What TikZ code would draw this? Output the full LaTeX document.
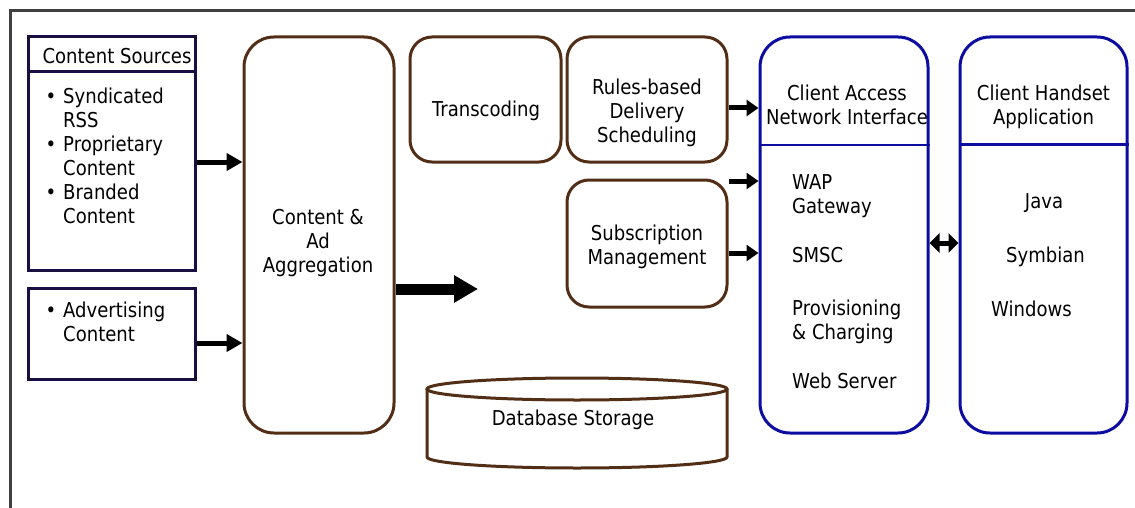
\documentclass[tikz,border=0pt]{standalone}
\usepackage{fontspec}
\setmainfont{DejaVu Sans}[FakeStretch=0.88]
\usetikzlibrary{arrows.meta}
\definecolor{srcnavy}{RGB}{26,14,66}
\definecolor{procbrown}{RGB}{82,46,22}
\definecolor{clientblue}{RGB}{12,12,160}
\definecolor{framegray}{RGB}{64,64,64}
\tikzset{
  boxsize/.style 2 args={minimum width=#1pt, minimum height=#2pt, inner sep=0pt},
  srcbox/.style={draw=srcnavy, line width=3pt},
  procbox/.style={draw=procbrown, line width=3pt, rounded corners=22pt},
  clientbox/.style={draw=clientblue, line width=3pt, rounded corners=30pt},
  boxtext/.style={font=\fontsize{20.5}{24}\selectfont, align=center, inner sep=0pt},
  lefttext/.style={boxtext, align=left, anchor=west},
  fatarrow/.style={-{Triangle[length=16pt,width=17pt]}, line width=5pt},
  midarrow/.style={-{Triangle[length=12pt,width=16pt]}, line width=5pt},
  bigarrow/.style={-{Triangle[length=24pt,width=26pt]}, line width=11pt},
  twinarrow/.style={{Triangle[length=10pt,width=19pt]}-{Triangle[length=10pt,width=19pt]}, line width=5pt}
}
\newcommand{\srcitem}{\llap{\textbullet\hspace{7pt}}}
\begin{document}
\begin{tikzpicture}[x=1pt, y=-1pt]
  \clip (0,0) rectangle (1135,508);
  \draw[framegray, line width=3pt] (10,11) rectangle (1160,540);

  % content sources
  \node[srcbox, boxsize={167}{233}] (src) at (111.5,153.5) {};
  \draw[srcnavy, line width=3pt] (src.west |- 0,72) -- (src.east |- 0,72);
  \node[boxtext] (srchead) at (117,56.5) {Content Sources};
  \node[lefttext] (srclist) at (63,155.5) {\srcitem Syndicated\\RSS\\\srcitem Proprietary\\Content\\\srcitem Branded\\Content};
  \node[srcbox, boxsize={167}{91}] (ads) at (111.5,333.5) {};
  \node[lefttext] (adslist) at (63,322) {\srcitem Advertising\\Content};

  % processing
  \node[procbox, rounded corners=30pt, boxsize={150}{396}] (agg) at (319,235) {};
  \node[boxtext] (aggtext) at (318,243) {Content \&\\Ad\\Aggregation};
  \node[procbox, boxsize={151}{125}] (trans) at (485.5,99.5) {};
  \node[boxtext] (transtext) at (486,110.5) {Transcoding};
  \node[procbox, boxsize={160}{125}] (rules) at (647,99.5) {};
  \node[boxtext] (rulestext) at (647,113) {Rules-based\\Delivery\\Scheduling};
  \node[procbox, boxsize={160}{127}] (subs) at (647,243.5) {};
  \node[boxtext] (substext) at (647,247) {Subscription\\Management};

  % database
  \draw[procbrown, line width=3pt] (427,389) -- (427,457)
    arc[start angle=180, end angle=360, x radius=150pt, y radius=11pt] -- (727,389);
  \draw[procbrown, line width=3pt, fill=white] (577,389) ellipse [x radius=150pt, y radius=11pt];
  \node[boxtext] (db) at (573,420) {Database Storage};

  % client side
  \node[clientbox, boxsize={168}{396}] (access) at (844,235) {};
  \draw[clientblue, line width=2pt] (access.west |- 0,145) -- (access.east |- 0,145);
  \node[boxtext] (accesshead) at (847,104.5) {Client Access\\Network Interface};
  \node[lefttext] (wap) at (792,196) {WAP\\Gateway};
  \node[lefttext] (smsc) at (792,255) {SMSC};
  \node[lefttext] (prov) at (792,322) {Provisioning\\\& Charging};
  \node[lefttext] (web) at (792,381) {Web Server};

  \node[clientbox, boxsize={167}{396}] (handset) at (1043.5,235) {};
  \draw[clientblue, line width=3pt] (handset.west |- 0,145) -- (handset.east |- 0,145);
  \node[boxtext] (handsethead) at (1043.5,107) {Client Handset\\Application};
  \node[boxtext] (java) at (1044,203) {Java};
  \node[boxtext] (symbian) at (1045.5,257) {Symbian};
  \node[boxtext] (windows) at (1031.5,309) {Windows};

  % connectors
  \coordinate (aggout) at (478,289);
  \coordinate (gapin) at (729,181);
  \draw[fatarrow] (src.east |- 0,162) -- (agg.west |- 0,162);
  \draw[fatarrow] (ads.east |- 0,343) -- (agg.west |- 0,343);
  \draw[bigarrow] (agg.east |- aggout) -- (aggout);
  \draw[midarrow] (rules.east |- 0,108) -- (access.west |- 0,108);
  \draw[midarrow] (gapin) -- (access.west |- gapin);
  \draw[midarrow] (subs.east |- 0,253) -- (access.west |- 0,253);
  \draw[twinarrow] (access.east |- 0,243) -- (handset.west |- 0,243);
\end{tikzpicture}
\end{document}
